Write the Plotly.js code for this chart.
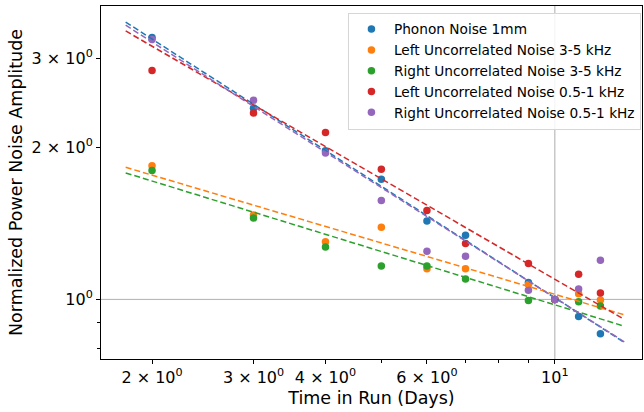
<!DOCTYPE html>
<html>
<head>
<meta charset="utf-8">
<script src="https://cdn.plot.ly/plotly-3.0.1.min.js"></script>
<style>html,body{margin:0;padding:0;background:#fff;}#chart{width:644px;height:412px;}</style>
</head>
<body>
<div id="chart"></div>
<script>
// Data
const days = [2, 3, 4, 5, 6, 7, 9, 10, 11, 12];
const phonon1mm   = [3.30, 2.39, 1.97, 1.73, 1.43, 1.34, 1.08, 1.00, 0.925, 0.855];
const left35      = [1.84, 1.47, 1.30, 1.39, 1.15, 1.15, 1.07, 1.00, 1.026, 0.997];
const right35     = [1.80, 1.45, 1.27, 1.164, 1.164, 1.097, 0.995, 1.00, 0.989, 0.970];
const left051     = [2.84, 2.34, 2.14, 1.81, 1.50, 1.29, 1.178, 1.00, 1.122, 1.029];
const right051    = [3.27, 2.48, 1.95, 1.57, 1.245, 1.217, 1.042, 1.00, 1.048, 1.195];

// Power-law fit lines (end points)
const fitDays = [1.8, 13.2];
const fitPhonon  = [3.54, 0.822];
const fitLeft35  = [1.826, 0.932];
const fitRight35 = [1.78, 0.885];
const fitLeft051 = [3.40, 0.913];
const fitRight051= [3.49, 0.824];

const seriesNames = ["Phonon Noise 1mm", "Left Uncorrelated Noise 3-5 kHz", "Right Uncorrelated Noise 3-5 kHz", "Left Uncorrelated Noise 0.5-1 kHz", "Right Uncorrelated Noise 0.5-1 kHz"];
const colors = ["#1f77b4", "#ff7f0e", "#2ca02c", "#d62728", "#9467bd"];

// Reference lines
const refDay = 10;
const refAmp = 1;

// Ticks
const xTickVals = [2, 3, 4, 6, 10];
const xTickText = ["2 × 10<sup>0</sup>", "3 × 10<sup>0</sup>", "4 × 10<sup>0</sup>", "6 × 10<sup>0</sup>", "10<sup>1</sup>"];
const xMinorVals = [5, 7, 8, 9];
const yTickVals = [1, 2, 3];
const yTickText = ["10<sup>0</sup>", "2 × 10<sup>0</sup>", "3 × 10<sup>0</sup>"];
const yMinorVals = [0.8, 0.9];

const ys = [phonon1mm, left35, right35, left051, right051];
const fits = [fitPhonon, fitLeft35, fitRight35, fitLeft051, fitRight051];

const traces = [];
ys.forEach((y, i) => {
  traces.push({
    x: days, y: y, type: "scatter", mode: "markers", name: seriesNames[i],
    marker: {color: colors[i], size: 7.5}, hoverinfo: "x+y"
  });
});
fits.forEach((f, i) => {
  traces.push({
    x: fitDays, y: f, type: "scatter", mode: "lines", showlegend: false,
    line: {color: colors[i], width: 1.5, dash: "6px,3px"}, hoverinfo: "skip"
  });
});

const layout = {
  width: 644, height: 412,
  margin: {l: 101, r: 2, t: 6, b: 53},
  paper_bgcolor: "#fff", plot_bgcolor: "#fff",
  font: {family: "DejaVu Sans", color: "#000"},
  showlegend: true,
  legend: {
    x: 0.998, y: 0.981, xanchor: "right", yanchor: "top",
    bgcolor: "rgba(255,255,255,0.85)", bordercolor: "#d6d6d6", borderwidth: 1,
    font: {size: 13.7, family: "DejaVu Sans", color: "#000"},
    tracegroupgap: 0, itemwidth: 35
  },
  xaxis: {
    type: "log", range: [Math.log10(1.631), Math.log10(14.17)],
    showgrid: false, zeroline: false,
    showline: true, mirror: true, linecolor: "#000", linewidth: 1,
    ticks: "outside", ticklen: 4, tickwidth: 1, tickcolor: "#000",
    tickmode: "array", tickvals: xTickVals, ticktext: xTickText,
    minor: {tickmode: "array", tickvals: xMinorVals, ticks: "outside", ticklen: 3, tickwidth: 1, tickcolor: "#000", showgrid: false},
    tickfont: {size: 16, family: "DejaVu Sans"},
    title: {text: "Time in Run (Days)", font: {size: 17.5, family: "DejaVu Sans"}, standoff: 5}
  },
  yaxis: {
    type: "log", range: [Math.log10(0.762), Math.log10(3.81)],
    showgrid: false, zeroline: false,
    showline: true, mirror: true, linecolor: "#000", linewidth: 1,
    ticks: "outside", ticklen: 4, tickwidth: 1, tickcolor: "#000",
    tickmode: "array", tickvals: yTickVals, ticktext: yTickText,
    minor: {tickmode: "array", tickvals: yMinorVals, ticks: "outside", ticklen: 3, tickwidth: 1, tickcolor: "#000", showgrid: false},
    tickfont: {size: 16, family: "DejaVu Sans"},
    title: {text: "Normalized Power Noise Amplitude", font: {size: 17.5, family: "DejaVu Sans"}, standoff: 4}
  },
  shapes: [
    {type: "line", xref: "x", yref: "paper", x0: refDay, x1: refDay, y0: 0, y1: 1,
     line: {color: "#c8c8c8", width: 1.5}, layer: "below"},
    {type: "line", xref: "paper", yref: "y", x0: 0, x1: 1, y0: refAmp, y1: refAmp,
     line: {color: "#b0b0b0", width: 1}, layer: "below"}
  ]
};

Plotly.newPlot("chart", traces, layout, {displayModeBar: false, staticPlot: true});
</script>
</body>
</html>
